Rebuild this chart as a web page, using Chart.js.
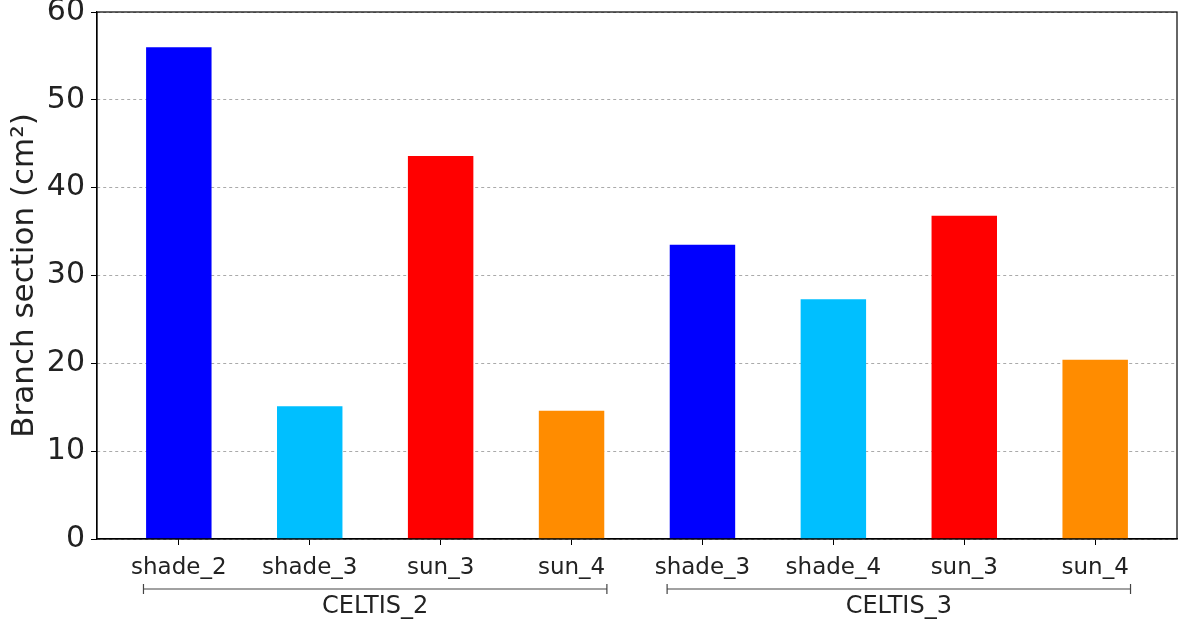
<!DOCTYPE html>
<html>
<head>
<meta charset="utf-8">
<script src="https://cdn.jsdelivr.net/npm/chart.js@4.4.0/dist/chart.umd.min.js"></script>
<style>
  html, body { margin: 0; padding: 0; background: #fff; }
  #wrap { width: 1180px; height: 620px; }
</style>
</head>
<body>
<div id="wrap"><canvas id="branch" width="1180" height="620"></canvas></div>
<script>
// data
var xLabels = ['shade_2', 'shade_3', 'sun_3', 'sun_4', 'shade_3', 'shade_4', 'sun_3', 'sun_4'];
var sections = [56.0, 15.1, 43.6, 14.6, 33.5, 27.3, 36.8, 20.4];
var barColors = ['#0000ff', '#00bfff', '#ff0000', '#ff8c00', '#0000ff', '#00bfff', '#ff0000', '#ff8c00'];
var groups = ['CELTIS_2', 'CELTIS_3'];
var groupStart = [0, 4];
var groupEnd = [3, 7];
var yTicks = [0, 10, 20, 30, 40, 50, 60];

var points = [];
for (var i in sections) {
  points.push({x: Number(i), y: sections[i]});
}

// frame round the plot + the group brackets under the x labels
var framePlugin = {
  id: 'frameAndGroups',
  afterDraw: function(chart) {
    var ctx = chart.ctx;
    var a = chart.chartArea;
    var xs = chart.scales.x;
    ctx.save();
    ctx.strokeStyle = '#000';
    ctx.lineWidth = 1.2;
    ctx.strokeRect(a.left, a.top, a.right - a.left, a.bottom - a.top);

    ctx.strokeStyle = '#444';
    ctx.lineWidth = 1.2;
    ctx.fillStyle = '#222';
    ctx.font = '24px "DejaVu Sans"';
    ctx.textAlign = 'center';
    ctx.textBaseline = 'middle';
    var yb = 589;
    for (var g = 0; g < groups.length; g++) {
      var x1 = xs.getPixelForValue(groupStart[g] - 0.27);
      var x2 = xs.getPixelForValue(groupEnd[g] + 0.27);
      ctx.beginPath();
      ctx.moveTo(x1, yb); ctx.lineTo(x2, yb);
      ctx.moveTo(x1, yb - 5); ctx.lineTo(x1, yb + 5);
      ctx.moveTo(x2, yb - 5); ctx.lineTo(x2, yb + 5);
      ctx.stroke();
      ctx.fillText(groups[g], (x1 + x2) / 2, 607);
    }
    ctx.restore();
  }
};

var ctx = document.getElementById('branch');
var barGraph = new Chart(ctx, {
  type: 'bar',
  data: {
    datasets: [{
      data: points,
      backgroundColor: barColors,
      borderWidth: 0,
      barPercentage: 0.5,
      categoryPercentage: 1.0
    }]
  },
  options: {
    responsive: false,
    animation: false,
    layout: { padding: { top: 12, right: 3, left: 0, bottom: 0 } },
    plugins: {
      legend: { display: false },
      tooltip: { enabled: false }
    },
    scales: {
      x: {
        type: 'linear',
        offset: false,
        min: -0.625,
        max: 7.625,
        afterBuildTicks: function(scale) {
          scale.ticks = xLabels.map(function(l, i) { return {value: i}; });
        },
        afterFit: function(scale) { scale.height = 81; },
        ticks: {
          autoSkip: false,
          maxRotation: 0,
          color: '#222',
          padding: 9,
          font: { family: 'DejaVu Sans', size: 23 },
          callback: function(v) { return xLabels[v]; }
        },
        grid: {
          offset: false,
          drawOnChartArea: false,
          drawTicks: true,
          tickLength: 6,
          tickColor: '#000'
        },
        border: { color: '#000', width: 1.2 }
      },
      y: {
        min: 0,
        max: 60,
        afterBuildTicks: function(scale) {
          scale.ticks = yTicks.map(function(v) { return {value: v}; });
        },
        afterFit: function(scale) {
          scale.width = 97;
          scale.paddingTop = 0;
          scale.paddingBottom = 0;
        },
        title: {
          display: true,
          text: 'Branch section (cm²)',
          color: '#222',
          font: { family: 'DejaVu Sans', size: 31 },
          padding: { top: 6, bottom: 4 }
        },
        ticks: {
          color: '#222',
          padding: 6,
          font: { family: 'DejaVu Sans', size: 30 }
        },
        grid: {
          color: '#aaa',
          lineWidth: 1,
          tickColor: '#000',
          tickLength: 6,
          tickBorderDash: []
        },
        border: { color: '#000', width: 1.2, dash: [3, 3] }
      }
    }
  },
  plugins: [framePlugin]
});
</script>
</body>
</html>
